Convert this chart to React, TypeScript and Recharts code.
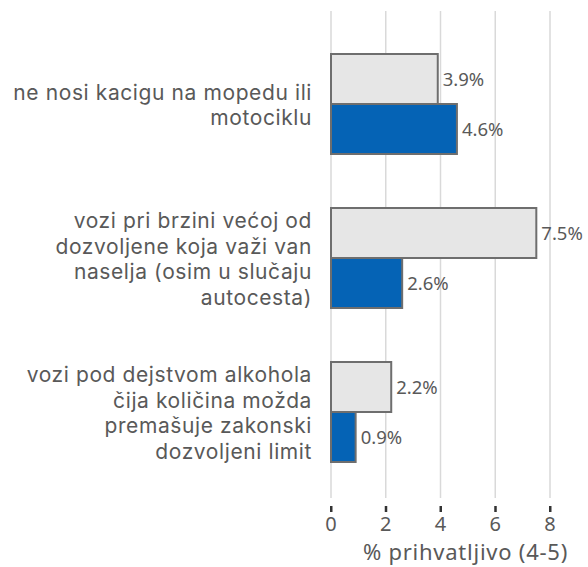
import { BarChart, Bar, XAxis, YAxis, CartesianGrid, LabelList } from "recharts";

const categories = [
  "ne nosi kacigu na mopedu ili\nmotociklu",
  "vozi pri brzini većoj od\ndozvoljene koja važi van\nnaselja (osim u slučaju\nautocesta)",
  "vozi pod dejstvom alkohola\nčija količina možda\npremašuje zakonski\ndozvoljeni limit",
];
const seriesA = [3.9, 7.5, 2.2];
const seriesB = [4.6, 2.6, 0.9];
const xTicks = [0, 2, 4, 6, 8];
const axisTitle = "% prihvatljivo (4-5)";

const data = categories.map((name, i) => ({ name, a: seriesA[i], b: seriesB[i] }));

const FONT = "'Noto Sans', 'Open Sans', sans-serif";
const LABEL_FONT = "Inter, 'Noto Sans', sans-serif";
const TEXT = "#595959";

const CategoryTick = (props: any) => {
  const { x, y, payload } = props;
  const lines = String(payload.value).split("\n");
  const lh = 25.5;
  const start = y - ((lines.length - 1) * lh) / 2 + 1;
  return (
    <text
      x={x - 11}
      y={start}
      textAnchor="end"
      fill={TEXT}
      fontSize={21}
      letterSpacing={0.6}
      fontFamily={LABEL_FONT}
    >
      {lines.map((l, i) => (
        <tspan key={i} x={x - 11} y={start + i * lh} dy="0.35em">
          {l}
        </tspan>
      ))}
    </text>
  );
};

const ValueTick = (props: any) => {
  const { x, y, payload } = props;
  return (
    <g>
      <rect x={x - 1} y={y} width={2.5} height={6} fill="#333" />
      <text x={x} y={y + 25} textAnchor="middle" fill={TEXT} fontSize={20} fontFamily={FONT}>
        {payload.value}
      </text>
    </g>
  );
};

const AxisTitle = (props: any) => {
  const { viewBox } = props;
  return (
    <text
      x={viewBox.x + viewBox.width + 18}
      y={viewBox.y + 62}
      textAnchor="end"
      fill={TEXT}
      fontSize={22}
      letterSpacing={0.75}
      fontFamily={FONT}
    >
      {axisTitle}
    </text>
  );
};

const fmt = (v: any) => `${v}%`;

export default function App() {
  return (
    <div style={{ position: "fixed", left: 0, top: 0, background: "#fff" }}>
      <BarChart
        width={588}
        height={567}
        data={data}
        layout="vertical"
        margin={{ top: 11, right: 38, left: 0, bottom: 29 }}
        barSize={50}
        barGap={0}
      >
        <CartesianGrid horizontal={false} stroke="#d9d9d9" strokeWidth={1.5} />
        <XAxis
          type="number"
          domain={[0, 8]}
          ticks={xTicks}
          axisLine={false}
          tickLine={false}
          tick={<ValueTick />}
          height={40}
          label={<AxisTitle />}
        />
        <YAxis
          type="category"
          dataKey="name"
          width={331}
          axisLine={false}
          tickLine={false}
          tick={<CategoryTick />}
          padding={{ top: 16, bottom: 9 }}
        />
        <Bar dataKey="a" fill="#e6e6e6" stroke="#6e6e6e" strokeWidth={2} isAnimationActive={false}>
          <LabelList dataKey="a" position="right" formatter={fmt} fill={TEXT} fontSize={18.5} fontFamily={FONT} offset={5} />
        </Bar>
        <Bar dataKey="b" fill="#0563b5" stroke="#6e6e6e" strokeWidth={2} isAnimationActive={false}>
          <LabelList dataKey="b" position="right" formatter={fmt} fill={TEXT} fontSize={18.5} fontFamily={FONT} offset={5} />
        </Bar>
      </BarChart>
    </div>
  );
}
